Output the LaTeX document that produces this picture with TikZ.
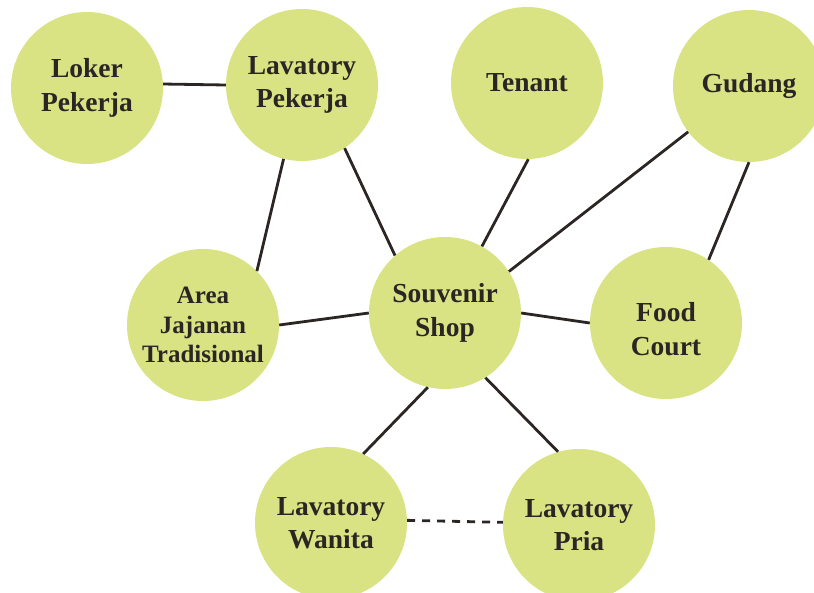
\documentclass[tikz,border=0pt]{standalone}
\usepackage{fontspec}
\setmainfont{Liberation Serif}
\definecolor{zonefill}{HTML}{D9E384}
\definecolor{ink}{HTML}{2B2624}
\begin{document}
\begin{tikzpicture}[x=1pt,y=-1pt,
  zonetext/.style={align=center, text=ink, inner sep=0pt,
    font=\fontsize{27.5}{33.5}\selectfont\bfseries},
  zone/.style={circle, fill=zonefill, minimum size=152pt, zonetext},
  smallzone/.style={zone, font=\fontsize{25}{29.5}\selectfont\bfseries},
  link/.style={draw=ink, line width=2.8pt},
  weaklink/.style={link, dash pattern=on 8pt off 7pt}]
  \path[clip] (0,0) rectangle (814,592);

  % zones
  \node[zone] (loker)    at (87,88)   {Loker\\Pekerja};
  \node[zone] (lavp)     at (302,85)  {Lavatory\\Pekerja};
  \node[zone] (tenant)   at (527,83)  {Tenant};
  \node[zone] (gudang)   at (749,86)  {Gudang};
  \node[smallzone] (area) at (203,325) {Area\\Jajanan\\Tradisional};
  \node[zone] (shop)     at (445,313) {Souvenir\\Shop};
  \node[zone] (food)     at (666,323) {};
  \node[zonetext] (foodlabel) at ([yshift=-6pt]food.center) {Food\\Court};
  \node[zone] (wanita)   at (331,523) {Lavatory\\Wanita};
  \node[zone] (pria)     at (579,525) {Lavatory\\Pria};

  % relations
  \draw[link] (loker.3) -- (lavp.180);
  \draw[link] (lavp.-104) -- (area.45);
  \draw[link] (lavp.-56) -- (shop.131);
  \draw[link] (tenant.-89) -- (shop.61);
  \draw[link] (gudang.217) -- (shop.33);
  \draw[link] (gudang.-90) -- (food.56);
  \draw[link] (area.0) -- (shop.180);
  \draw[link] (shop.0) -- (food.180);
  \draw[link] (shop.-103) -- (wanita.65);
  \draw[link] (shop.-58) -- (pria.106);
  \draw[weaklink] (wanita.2) -- (pria.178);
\end{tikzpicture}
\end{document}
